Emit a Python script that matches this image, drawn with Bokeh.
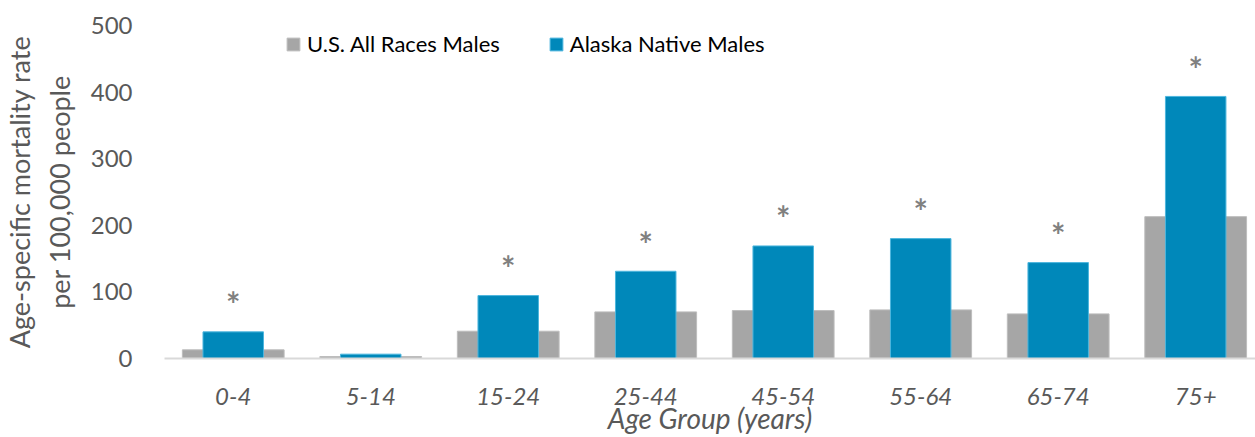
from bokeh.plotting import figure
from bokeh.models import Range1d, FixedTicker, ColumnDataSource, Legend, LegendItem
from bokeh.core.properties import value
from bokeh.embed import file_html
from bokeh.resources import INLINE

categories = ["0-4", "5-14", "15-24", "25-44", "45-54", "55-64", "65-74", "75+"]
us_all_races = [13, 3, 41, 70, 72, 73, 67, 213]
alaska_native = [40, 6.5, 94.5, 131, 169, 180, 144, 393.5]
significant = [True, False, True, True, True, True, True, True]
y_ticks = [0, 100, 200, 300, 400, 500]

FONT = "Lato"
GRAY = "#A6A6A6"
BLUE = "#0088BA"
TXT = "#595959"

xs = list(range(len(categories)))
src = ColumnDataSource(dict(x=xs, us=us_all_races, an=alaska_native))
sx = [x for x, s in zip(xs, significant) if s]
sy = [v for v, s in zip(alaska_native, significant) if s]
star_src = ColumnDataSource(dict(x=sx, y=sy, t=["*"] * len(sx)))

p = figure(width=1255, height=437, output_backend="svg", toolbar_location=None,
           x_range=Range1d(-0.5, 7.435), y_range=Range1d(0, 500),
           min_border_left=164, min_border_right=0, min_border_top=25, min_border_bottom=77)
p.outline_line_color = None
p.xgrid.grid_line_color = None
p.ygrid.grid_line_color = None
p.background_fill_color = "white"
p.border_fill_color = "white"

r_us = p.vbar(x="x", top="us", width=0.74, source=src, fill_color=GRAY, line_color="#BDBDBD", line_width=1)
r_an = p.vbar(x="x", top="an", width=0.44, source=src, fill_color=BLUE, line_color="#4DB6DE", line_width=1)

p.text(x="x", y="y", text="t", source=star_src, text_font=value(FONT), text_font_size="34px",
       text_font_style="bold", text_color="#808080", text_align="center", text_baseline="middle",
       y_offset=-28)

# x axis
p.xaxis.ticker = FixedTicker(ticks=xs)
p.xaxis.major_label_overrides = {i: c for i, c in enumerate(categories)}
p.xaxis.axis_line_color = "#D9D9D9"
p.xaxis.axis_line_width = 2
p.xaxis.major_tick_line_color = None
p.xaxis.minor_tick_line_color = None
p.xaxis.major_label_text_font = FONT
p.xaxis.major_label_text_font_style = "italic"
p.xaxis.major_label_text_font_size = "24px"
p.xaxis.major_label_text_color = TXT
p.xaxis.major_label_standoff = 23
p.xaxis.axis_label = "Age Group (years)"
p.xaxis.axis_label_text_font = FONT
p.xaxis.axis_label_text_font_style = "italic"
p.xaxis.axis_label_text_font_size = "28px"
p.xaxis.axis_label_text_color = TXT
p.xaxis.axis_label_standoff = -7

# y axis
p.yaxis.ticker = FixedTicker(ticks=y_ticks)
p.yaxis.axis_line_color = None
p.yaxis.major_tick_line_color = None
p.yaxis.minor_tick_line_color = None
p.yaxis.major_label_text_font = FONT
p.yaxis.major_label_text_font_size = "24px"
p.yaxis.major_label_text_color = TXT
p.yaxis.major_label_standoff = 26
p.yaxis.axis_label = "Age-specific mortality rate\nper 100,000 people"
p.yaxis.axis_label_text_font = FONT
p.yaxis.axis_label_text_font_style = "normal"
p.yaxis.axis_label_text_font_size = "27px"
p.yaxis.axis_label_text_color = TXT
p.yaxis.axis_label_text_line_height = 1.2
p.yaxis.axis_label_standoff = 12

legend = Legend(items=[LegendItem(label="U.S. All Races Males", renderers=[r_us]),
                       LegendItem(label="Alaska Native Males", renderers=[r_an])],
                orientation="horizontal", location=(121, 301),
                label_text_font=FONT, label_text_font_size="22px", label_text_color="#000000",
                glyph_width=16, glyph_height=16, label_standoff=6, spacing=48,
                padding=0, margin=0, border_line_color=None, background_fill_alpha=0)
p.add_layout(legend, "center")

open("out.html", "w").write(file_html(p, INLINE))
